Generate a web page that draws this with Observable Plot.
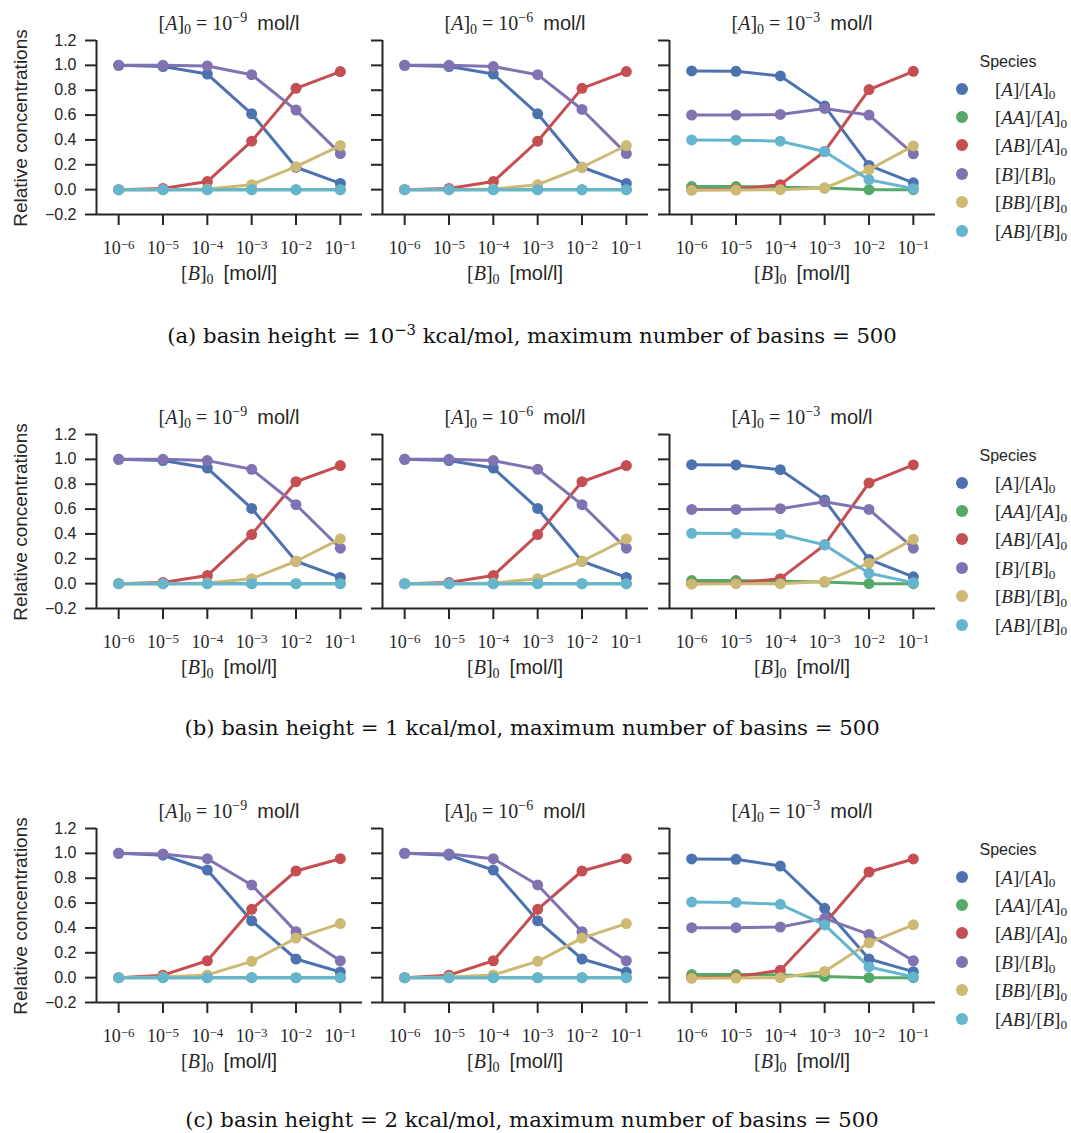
<!DOCTYPE html>
<html>
<head>
<meta charset="utf-8">
<script src="https://cdn.jsdelivr.net/npm/d3@7"></script>
<script src="https://cdn.jsdelivr.net/npm/@observablehq/plot@0.6"></script>
<style>
  html, body { margin: 0; padding: 0; background: #fff; }
  #root { position: relative; width: 1071px; height: 1133px; overflow: hidden; background: #fff; }
  .abs { position: absolute; white-space: nowrap; line-height: 1; }
  .m { font-family: "Liberation Serif", "DejaVu Serif", serif; }
  .s { font-family: "Liberation Sans", Arial, sans-serif; }
  .sub { font-size: 0.7em; position: relative; top: 0.3em; }
  .sup { font-size: 0.7em; position: relative; top: -0.55em; }
  .title { font-size: 20px; color: #262626; transform: translate(-50%, -50%); }
  .xlabel { font-size: 20px; color: #262626; transform: translate(-50%, -50%); }
  .ylabel { font-size: 19px; color: #262626; transform: translate(-50%, -50%) rotate(-90deg); font-family: "Liberation Sans", Arial, sans-serif; }
  .caption { font-family: "DejaVu Serif", serif; font-size: 21.2px; color: #111; transform: translate(-50%, -50%); }
  .legtitle { font-size: 16px; color: #262626; transform: translate(-50%, -50%); font-family: "Liberation Sans", Arial, sans-serif; }
  .legdot { width: 12px; height: 12px; border-radius: 50%; transform: translate(-50%, -50%); }
  .leglab { font-size: 19px; color: #262626; transform: translate(0, -50%); }
  svg { overflow: visible; }
</style>
</head>
<body>
<div id="root"></div>
<script>
// ---------------- data ----------------
const bExps = [-6, -5, -4, -3, -2, -1];              // [B]0 = 10^e mol/l
const aExps = [-9, -6, -3];                          // [A]0 = 10^e mol/l
const speciesKeys = ["A/A0", "AA/A0", "AB/A0", "B/B0", "BB/B0", "AB/B0"];
const speciesColors = ["#4C72B0", "#55A868", "#C44E52", "#8172B2", "#CCB974", "#64B5CD"];
const yTicks = [-0.2, 0, 0.2, 0.4, 0.6, 0.8, 1.0, 1.2];
const basinHeights = ["10<span class='sup'>−3</span>", "1", "2"];
const captionLetters = ["a", "b", "c"];

// each panel: series in speciesKeys order, values at bExps
const rowA_p1 = [
  [1.00, 0.99, 0.93, 0.61, 0.18, 0.05],
  [0, 0, 0, 0, 0, 0],
  [0.00, 0.01, 0.065, 0.39, 0.815, 0.95],
  [1.00, 1.00, 0.995, 0.925, 0.64, 0.29],
  [0.00, 0.00, 0.005, 0.04, 0.185, 0.355],
  [0, 0, 0, 0, 0, 0]
];
const rowA_p2 = [
  [1.00, 0.99, 0.93, 0.61, 0.18, 0.05],
  [0, 0, 0, 0, 0, 0],
  [0.00, 0.01, 0.065, 0.39, 0.815, 0.95],
  [1.00, 1.00, 0.99, 0.925, 0.645, 0.29],
  [0.00, 0.00, 0.005, 0.04, 0.18, 0.355],
  [0, 0, 0, 0, 0, 0]
];
const rowA_p3 = [
  [0.955, 0.952, 0.915, 0.672, 0.195, 0.055],
  [0.025, 0.025, 0.02, 0.013, 0.0, 0.0],
  [0.0, 0.004, 0.04, 0.307, 0.805, 0.952],
  [0.60, 0.60, 0.605, 0.653, 0.60, 0.288],
  [-0.005, -0.003, 0.0, 0.013, 0.16, 0.352],
  [0.40, 0.398, 0.39, 0.307, 0.08, 0.008]
];
const rowB_p1 = [
  [1.0, 0.99, 0.93, 0.605, 0.18, 0.05],
  [0, 0, 0, 0, 0, 0],
  [0.0, 0.01, 0.065, 0.395, 0.82, 0.95],
  [1.0, 1.0, 0.99, 0.92, 0.635, 0.285],
  [0, 0, 0.005, 0.04, 0.18, 0.36],
  [0, 0, 0, 0, 0, 0]
];
const rowB_p2 = [
  [1.0, 0.99, 0.93, 0.605, 0.18, 0.05],
  [0, 0, 0, 0, 0, 0],
  [0.0, 0.01, 0.065, 0.395, 0.82, 0.95],
  [1.0, 1.0, 0.99, 0.92, 0.635, 0.285],
  [0, 0, 0.005, 0.04, 0.18, 0.36],
  [0, 0, 0, 0, 0, 0]
];
const rowB_p3 = [
  [0.957, 0.955, 0.917, 0.672, 0.195, 0.055],
  [0.025, 0.025, 0.02, 0.013, 0, 0],
  [0.0, 0.004, 0.04, 0.312, 0.81, 0.955],
  [0.597, 0.597, 0.603, 0.659, 0.597, 0.285],
  [-0.003, 0, 0, 0.018, 0.165, 0.357],
  [0.405, 0.403, 0.397, 0.312, 0.083, 0.008]
];
const rowC_p1 = [
  [1.0, 0.985, 0.866, 0.457, 0.15, 0.045],
  [0, 0, 0, 0, 0, 0],
  [0.0, 0.02, 0.136, 0.55, 0.858, 0.957],
  [1.0, 0.995, 0.957, 0.746, 0.37, 0.136],
  [0.0, 0.005, 0.022, 0.131, 0.318, 0.435],
  [0, 0, 0, 0, 0, 0]
];
const rowC_p2 = [
  [1.0, 0.985, 0.866, 0.457, 0.15, 0.045],
  [0, 0, 0, 0, 0, 0],
  [0.0, 0.02, 0.136, 0.55, 0.858, 0.957],
  [1.0, 0.995, 0.957, 0.746, 0.37, 0.136],
  [0.0, 0.005, 0.022, 0.131, 0.318, 0.435],
  [0, 0, 0, 0, 0, 0]
];
const rowC_p3 = [
  [0.955, 0.952, 0.898, 0.558, 0.15, 0.048],
  [0.025, 0.025, 0.022, 0.01, 0.0, 0.0],
  [0.0, 0.006, 0.059, 0.435, 0.85, 0.955],
  [0.402, 0.402, 0.407, 0.477, 0.348, 0.136],
  [-0.005, -0.003, 0.0, 0.05, 0.28, 0.425],
  [0.608, 0.605, 0.59, 0.424, 0.086, 0.006]
];
const rows = [[rowA_p1, rowA_p2, rowA_p3], [rowB_p1, rowB_p2, rowB_p3], [rowC_p1, rowC_p2, rowC_p3]];

// ---------------- layout ----------------
const root = document.getElementById("root");
const IW = 266, IH = 174, MT = 40, MB = 80, MR = 12;
const panelX = [96, 382, 669];
const rowOff = [0, 394, 788];
const ink = "#262626";
const NS = "http://www.w3.org/2000/svg";

function div(cls, html, x, y) {
  const d = document.createElement("div");
  d.className = "abs " + cls;
  d.innerHTML = html;
  d.style.left = x + "px";
  d.style.top = y + "px";
  root.appendChild(d);
  return d;
}

function styleTicks(svg) {
  svg.querySelectorAll('g[aria-label="x-axis tick label"]').forEach(g => {
    g.setAttribute("font-size", "18");
    g.setAttribute("font-family", "Liberation Serif, serif");
    g.style.fontSize = "18px";
    g.style.fontFamily = "Liberation Serif, serif";
  });
  svg.querySelectorAll('g[aria-label="x-axis tick label"] text').forEach(t => {
    const m = /^10\^(.+)$/.exec(t.textContent);
    if (!m) return;
    t.textContent = "";
    const a = document.createElementNS(NS, "tspan");
    a.textContent = "10";
    const b = document.createElementNS(NS, "tspan");
    b.textContent = m[1];
    b.setAttribute("dy", "-0.42em");
    b.setAttribute("font-size", "13");
    t.appendChild(a); t.appendChild(b);
  });
  svg.querySelectorAll('g[aria-label="y-axis tick label"]').forEach(g => {
    g.setAttribute("font-size", "16");
    g.setAttribute("font-family", "Liberation Sans, Arial, sans-serif");
    g.style.fontSize = "16px";
    g.style.fontFamily = "Liberation Sans, Arial, sans-serif";
  });
}

function makePanel(series, first) {
  const ML = first ? 60 : 20;
  const data = [];
  series.forEach((vals, s) => vals.forEach((v, j) => data.push({b: bExps[j], v, sp: speciesKeys[s]})));
  const marks = [
    Plot.ruleY([-0.2], {stroke: ink, strokeWidth: 2}),
    Plot.ruleX([-6.5], {stroke: ink, strokeWidth: 2}),
    Plot.axisX({ticks: bExps, tickSize: 11, tickPadding: 16, label: null, stroke: ink, strokeWidth: 2,
      tickFormat: d => "10^" + (d < 0 ? "−" + (-d) : d), fill: ink}),
    Plot.axisY({ticks: yTicks, tickSize: 11, tickPadding: 9, label: null, stroke: ink, strokeWidth: 2,
      tickFormat: first ? (d => (d < 0 ? "−" : "") + Math.abs(d).toFixed(1)) : (() => ""), fill: ink})
  ];
  speciesKeys.forEach((k, i) => {
    const sub = data.filter(d => d.sp === k);
    marks.push(Plot.line(sub, {x: "b", y: "v", stroke: speciesColors[i], strokeWidth: 3}));
    marks.push(Plot.dot(sub, {x: "b", y: "v", fill: speciesColors[i], r: 5.5}));
  });
  const svg = Plot.plot({
    width: ML + IW + MR, height: MT + IH + MB,
    marginLeft: ML, marginRight: MR, marginTop: MT, marginBottom: MB,
    x: {type: "linear", domain: [-6.5, -0.5]},
    y: {domain: [-0.2, 1.2]},
    style: {background: "transparent", overflow: "visible", color: ink},
    marks
  });
  styleTicks(svg);
  svg.style.position = "absolute";
  return {svg, ML};
}

rows.forEach((panels, r) => {
  const oy = rowOff[r];
  panels.forEach((series, p) => {
    const {svg, ML} = makePanel(series, p === 0);
    svg.style.left = (panelX[p] - ML) + "px";
    svg.style.top = (oy) + "px";
    root.appendChild(svg);
    const cx = panelX[p] + IW / 2;
    const e = aExps[p];
    div("title", `<span class="m">[<i>A</i>]<span class="sub">0</span> = 10<span class="sup">−${-e}</span></span>&nbsp;&nbsp;<span class="s">mol/l</span>`, cx, oy + 23);
    div("xlabel", `<span class="m">[<i>B</i>]<span class="sub">0</span></span>&nbsp;&nbsp;<span class="s">[mol/l]</span>`, cx, oy + 273);
  });
  div("ylabel", "Relative concentrations", 20, oy + 128);
  // legend
  div("legtitle", "Species", 1008, oy + 62);
  const legLabels = [
    "[<i>A</i>]/[<i>A</i>]<span class='sub'>0</span>",
    "[<i>AA</i>]/[<i>A</i>]<span class='sub'>0</span>",
    "[<i>AB</i>]/[<i>A</i>]<span class='sub'>0</span>",
    "[<i>B</i>]/[<i>B</i>]<span class='sub'>0</span>",
    "[<i>BB</i>]/[<i>B</i>]<span class='sub'>0</span>",
    "[<i>AB</i>]/[<i>B</i>]<span class='sub'>0</span>"
  ];
  speciesKeys.forEach((k, i) => {
    const y = oy + 88.5 + 28.4 * i;
    const d = div("legdot", "", 962, y);
    d.style.background = speciesColors[i];
    div("leglab m", legLabels[i], 995, y);
  });
  div("caption", `(${captionLetters[r]}) basin height = ${basinHeights[r]} kcal/mol, maximum number of basins = 500`, 532, 336 + 392 * r);
});
</script>
</body>
</html>
